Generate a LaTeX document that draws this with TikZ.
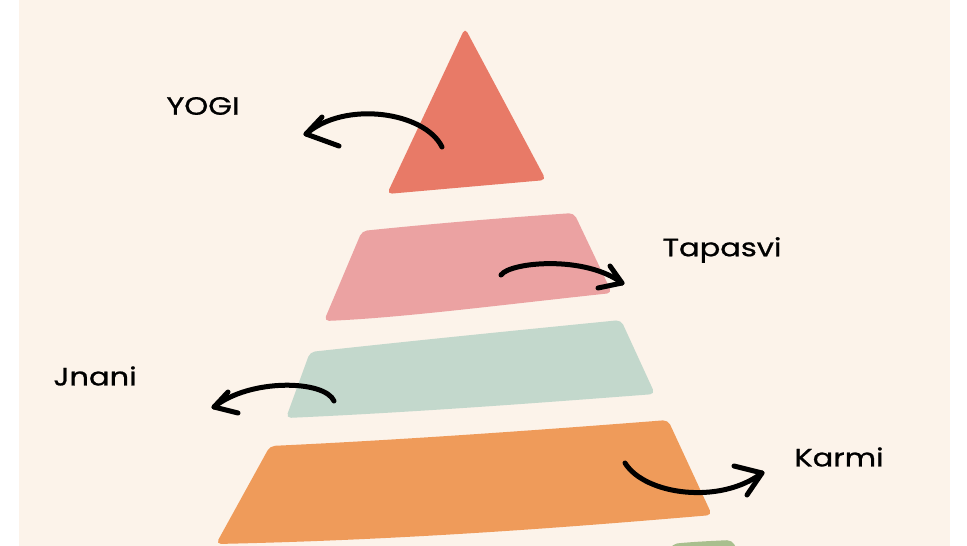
\documentclass[tikz,border=0pt]{standalone}
\usepackage{fontspec}
\setmainfont{Poppins}
\newfontfamily\lblfont{Poppins}[FakeBold=0.8]
\definecolor{panel}{HTML}{FCF3EA}
\definecolor{ctop}{HTML}{E87A67}
\definecolor{cpink}{HTML}{EBA2A2}
\definecolor{cgreen}{HTML}{C3D8CC}
\definecolor{corange}{HTML}{EF9B5A}
\definecolor{csliver}{HTML}{A9BF8E}
\tikzset{
  layer/.style={rounded corners=5pt},
  curvearrow/.style={line width=5pt, line cap=round, line join=round, black},
  lbl/.style={font=\lblfont\fontsize{25}{25}\selectfont, text=black, inner sep=0pt}
}
\newcommand{\wide}[1]{\scalebox{1.22}[1]{#1}}
\begin{document}
\begin{tikzpicture}[x=1pt,y=-1pt]
\useasboundingbox (0,0) rectangle (967,546);
\clip (0,0) rectangle (967,546);
\fill[white] (0,0) rectangle (967,546);
\fill[panel] (19,0) rectangle (950,546);
% layers
\fill[ctop, layer] (465,28) -- (546,180) -- (387,194) -- cycle;
\fill[cpink, layer] (362,231) .. controls (430,224) and (500,218) .. (574,213) -- (612,293) .. controls (500,305) and (400,318) .. (324,321) -- cycle;
\fill[cgreen, layer] (310,352) .. controls (420,340) and (520,330) .. (621,320) -- (655,394) .. controls (550,402) and (420,412) .. (286,418) -- cycle;
\fill[corange, layer] (270,446) .. controls (400,440) and (540,430) .. (668,420) -- (712,515) .. controls (560,528) and (400,540) .. (216,544) -- cycle;
\fill[csliver, layer] (668,556) -- (672,544) .. controls (690,542) and (710,541) .. (732,540) -- (740,556) -- cycle;
% labels
\node[lbl] (yogi) at (203,106) {\wide{YOGI}};
\node[lbl] (tapasvi) at (722,250) {\wide{Tapasvi}};
\node[lbl] (jnani) at (95,376) {\wide{Jnani}};
\node[lbl] (karmi) at (839,457) {\wide{Karmi}};
% arrows
\coordinate (ys) at (442,147); \coordinate (yt) at (306,134);
\draw[curvearrow] (ys) .. controls (425,112) and (345,100) .. (yt);
\draw[curvearrow] (322,117) -- (yt) -- (339,146);
\coordinate (ts) at (501,275); \coordinate (tt) at (622,283);
\draw[curvearrow] (ts) .. controls (510,262) and (585,255) .. (tt);
\draw[curvearrow] (610,266) -- (tt) -- (598,288);
\coordinate (js) at (334,401); \coordinate (jt) at (214,407);
\draw[curvearrow] (js) .. controls (325,380) and (250,378) .. (jt);
\draw[curvearrow] (228,392) -- (jt) -- (238,413);
\coordinate (ks) at (625,463); \coordinate (kt) at (762,473);
\draw[curvearrow] (ks) .. controls (645,495) and (720,505) .. (kt);
\draw[curvearrow] (734,466) -- (kt) -- (747,495);
\end{tikzpicture}
\end{document}
